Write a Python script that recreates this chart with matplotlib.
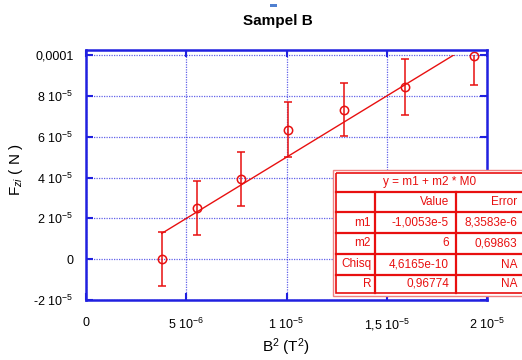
import matplotlib
matplotlib.use('Agg')
import matplotlib.pyplot as plt
from matplotlib.patches import Rectangle

plt.rcParams['font.family'] = ['Liberation Sans', 'DejaVu Sans']
plt.rcParams['mathtext.fontset'] = 'custom'
plt.rcParams['mathtext.rm'] = 'Liberation Sans'
plt.rcParams['mathtext.it'] = 'Liberation Sans:italic'

# measured data (B^2 in T^2, F in N)
b2 = [3.78e-6, 5.52e-6, 7.72e-6, 10.09e-6, 12.88e-6, 15.9e-6, 19.35e-6]
force = [0.0, 2.52e-5, 3.93e-5, 6.34e-5, 7.32e-5, 8.44e-5, 9.93e-5]
force_err = [1.33e-5, 1.33e-5, 1.31e-5, 1.34e-5, 1.31e-5, 1.36e-5, 1.38e-5]

# fit results
m1 = -1.0053e-5
m2 = 6.0
fit_rows = [['m1', '-1,0053e-5', '8,3583e-6'],
            ['m2', '6', '0,69863'],
            ['Chisq', '4,6165e-10', 'NA'],
            ['R', '0,96774', 'NA']]

xticks = [0, 5e-6, 1e-5, 1.5e-5, 2e-5]
xticklabels = ['0', r'5 10$^{-6}$', r'1 10$^{-5}$', r'1,5 10$^{-5}$', r'2 10$^{-5}$']
yticks = [-2e-5, 0, 2e-5, 4e-5, 6e-5, 8e-5, 1e-4]
yticklabels = [r'-2 10$^{-5}$', '0', r'2 10$^{-5}$', r'4 10$^{-5}$',
               r'6 10$^{-5}$', r'8 10$^{-5}$', '0,0001']

W, H = 522, 360
blue = '#2020e0'
red = '#e81010'

fig = plt.figure(figsize=(W / 100, H / 100), dpi=100)
ax = fig.add_axes([86 / W, 1 - 300 / H, 401 / W, 250 / H])

ax.set_xlim(0, 2e-5)
ax.set_ylim(-2e-5, 1.0245e-4)
ax.set_xticks(xticks)
ax.set_xticklabels(xticklabels)
ax.set_yticks(yticks)
ax.set_yticklabels(yticklabels)
ax.tick_params(direction='in', length=5, width=1.5, color=blue,
               top=True, right=True, labelsize=9)
ax.tick_params(axis='y', pad=9)
ax.tick_params(axis='x', pad=12)
ax.grid(True, color=blue, linestyle=(0, (1, 1)), linewidth=0.9, alpha=0.7)
for sp in ax.spines.values():
    sp.set_color(blue)
    sp.set_linewidth(1.8)

# clip data at 0.0001 like the original
clip = Rectangle((0, -2e-5), 2e-5, 1.2e-4, transform=ax.transData)

eb = ax.errorbar(b2, force, yerr=force_err, fmt='o', color=red, mfc='none',
                 mec=red, ms=6, mew=1.1, capsize=3, elinewidth=1.1, capthick=1.1)
for art in eb.lines[1] + eb.lines[2]:
    art.set_clip_path(clip)

xf = [min(b2), max(b2)]
yf = [m1 + m2 * v for v in xf]
fl, = ax.plot(xf, yf, color=red, linewidth=1)
fl.set_clip_path(clip)

fig.text(278 / W, 1 - 21 / H, 'Sampel B', ha='center', va='center',
         fontsize=11, fontweight='bold')
fig.text(16 / W, 1 - 170 / H, r'F$_{zi}$ ( N )', ha='center', va='center',
         rotation=90, fontsize=11)
fig.text(286 / W, 1 - 347 / H, r'B$^2$ (T$^2$)', ha='center', va='center',
         fontsize=11)

# overlay in pixel coords for the fit table
ov = fig.add_axes([0, 0, 1, 1])
ov.set_xlim(0, W)
ov.set_ylim(H, 0)
ov.axis('off')
ov.add_patch(Rectangle((270, 4), 7, 3, color='#5080d0', lw=0))

tx0, tx1 = 333, 527
ty0, ty1 = 170, 296
ov.add_patch(Rectangle((tx0, ty0), tx1 - tx0, ty1 - ty0, facecolor='white',
                       edgecolor='#f08080', lw=1))
ov.add_patch(Rectangle((tx0 + 3, ty0 + 3), tx1 - tx0 - 6, ty1 - ty0 - 6,
                       facecolor='none', edgecolor=red, lw=1.2))
row_y = [192, 212, 233, 254, 275]
for yy in row_y:
    ov.plot([tx0 + 3, tx1 - 3], [yy, yy], color=red, lw=1.6)
for xx in [375, 456]:
    ov.plot([xx, xx], [192, ty1 - 3], color=red, lw=1.6)

ov.text(430, 181.5, 'y = m1 + m2 * M0', ha='center', va='center',
        fontsize=8.5, color=red)
ov.text(449, 202, 'Value', ha='right', va='center', fontsize=8.5, color=red)
ov.text(517, 202, 'Error', ha='right', va='center', fontsize=8.5, color=red)
for i, row in enumerate(fit_rows):
    yc = (row_y[i + 1] + (row_y[i + 2] if i + 2 < len(row_y) else 293)) / 2
    ov.text(371, yc, row[0], ha='right', va='center', fontsize=8.5, color=red)
    ov.text(449, yc, row[1], ha='right', va='center', fontsize=8.5, color=red)
    ov.text(517, yc, row[2], ha='right', va='center', fontsize=8.5, color=red)

fig.savefig('out.png', dpi=100)
